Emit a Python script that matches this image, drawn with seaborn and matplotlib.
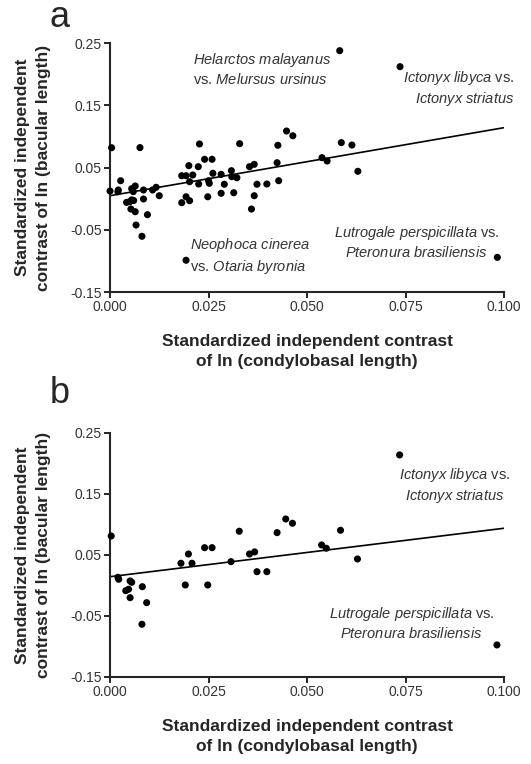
import matplotlib
matplotlib.use('Agg')
import matplotlib.pyplot as plt
import seaborn as sns

sns.set_style('ticks')
plt.rcParams['font.family'] = ['Liberation Sans', 'DejaVu Sans']
plt.rcParams['mathtext.fontset'] = 'custom'
plt.rcParams['mathtext.it'] = 'Liberation Sans:italic'
plt.rcParams['mathtext.rm'] = 'Liberation Sans'

# panel a: all contrasts
a_x = [0.0004, 0.0076, 0.0227, 0.0329, 0.0426, 0.0448, 0.0464, 0.0583, 0.0587,
       0.0614, 0.0736, 0.0538, 0.0551, 0.0629, 0.0983, 0.0193, 0.0000, 0.0021,
       0.0020, 0.0027, 0.0042, 0.0050, 0.0055, 0.0060, 0.0059, 0.0064, 0.0055,
       0.0053, 0.0064, 0.0066, 0.0081, 0.0085, 0.0085, 0.0095, 0.0108, 0.0117,
       0.0125, 0.0182, 0.0182, 0.0193, 0.0193, 0.0202, 0.0200, 0.0210, 0.0202,
       0.0224, 0.0225, 0.0240, 0.0259, 0.0250, 0.0252, 0.0261, 0.0248, 0.0282,
       0.0290, 0.0282, 0.0308, 0.0309, 0.0314, 0.0322, 0.0354, 0.0366, 0.0373,
       0.0366, 0.0359, 0.0398, 0.0424, 0.0428]
a_y = [0.0818, 0.0820, 0.0878, 0.0883, 0.0857, 0.1086, 0.1010, 0.2377, 0.0900,
       0.0861, 0.2120, 0.0658, 0.0604, 0.0439, -0.0943, -0.0990, 0.0122, 0.0139,
       0.0110, 0.0288, -0.0060, -0.0050, -0.0020, -0.0030, 0.0112, 0.0203, 0.0160,
       -0.0167, -0.0210, -0.0424, -0.0605, 0.0139, -0.0006, -0.0258, 0.0139, 0.0182,
       0.0047, -0.0065, 0.0368, 0.0368, 0.0030, -0.0033, 0.0530, 0.0380, 0.0272,
       0.0513, 0.0235, 0.0632, 0.0632, 0.0288, 0.0246, 0.0407, 0.0030, 0.0390,
       0.0231, 0.0086, 0.0449, 0.0353, 0.0095, 0.0336, 0.0513, 0.0551, 0.0231,
       0.0047, -0.0167, 0.0235, 0.0577, 0.0288]

# panel b: subset of contrasts
b_x = [0.0003, 0.0020, 0.0022, 0.0051, 0.0055, 0.0040, 0.0047, 0.0051, 0.0082,
       0.0093, 0.0081, 0.0180, 0.0191, 0.0199, 0.0208, 0.0240, 0.0259, 0.0248,
       0.0307, 0.0328, 0.0354, 0.0367, 0.0373, 0.0398, 0.0424, 0.0446, 0.0463,
       0.0537, 0.0549, 0.0585, 0.0628, 0.0982, 0.0735]
b_y = [0.0811, 0.0134, 0.0102, 0.0074, 0.0052, -0.0085, -0.0062, -0.0200, -0.0020,
       -0.0282, -0.0636, 0.0364, 0.0008, 0.0516, 0.0364, 0.0620, 0.0620, 0.0008,
       0.0390, 0.0889, 0.0516, 0.0550, 0.0226, 0.0226, 0.0866, 0.1090, 0.1020,
       0.0664, 0.0610, 0.0905, 0.0434, -0.0975, 0.2140]

# fitted lines
a_line_x = [0.0, 0.1]
a_line_y = [0.0047, 0.114]
b_line_x = [0.0, 0.1]
b_line_y = [0.0144, 0.0938]

x_ticks = [0.0, 0.025, 0.05, 0.075, 0.1]
x_ticklabels = ['0.000', '0.025', '0.050', '0.075', '0.100']
y_ticks = [-0.15, -0.05, 0.05, 0.15, 0.25]
y_ticklabels = ['-0.15', '-0.05', '0.05', '0.15', '0.25']

xlabel = 'Standardized independent contrast\nof ln (condylobasal length)'
ylabel = 'Standardized independent\ncontrast of ln (bacular length)'

a_notes = [
    (0.0211, 0.209, '$\\it{Helarctos\\ malayanus}$\nvs. $\\it{Melursus\\ ursinus}$', 'left'),
    (0.1025, 0.177, '$\\it{Ictonyx\\ libyca}$ vs.\n$\\it{Ictonyx\\ striatus}$', 'right'),
    (0.0204, -0.092, '$\\it{Neophoca\\ cinerea}$\nvs. $\\it{Otaria\\ byronia}$', 'left'),
    (0.0778, -0.069, '$\\it{Lutrogale\\ perspicillata}$ vs.\n$\\it{Pteronura\\ brasiliensis}$', 'center'),
]
b_notes = [
    (0.0875, 0.164, '$\\it{Ictonyx\\ libyca}$ vs.\n$\\it{Ictonyx\\ striatus}$', 'center'),
    (0.0765, -0.0615, '$\\it{Lutrogale\\ perspicillata}$ vs.\n$\\it{Pteronura\\ brasiliensis}$', 'center'),
]

fig = plt.figure(figsize=(5.31, 7.64), dpi=100)
ax_a = fig.add_axes([0.2072, 0.6178, 0.742, 0.3259])
ax_b = fig.add_axes([0.2072, 0.1139, 0.742, 0.3194])

for ax, xs, ys, lx, ly, notes in [(ax_a, a_x, a_y, a_line_x, a_line_y, a_notes),
                                   (ax_b, b_x, b_y, b_line_x, b_line_y, b_notes)]:
    sns.scatterplot(x=xs, y=ys, ax=ax, color='black', s=26, edgecolor='none',
                    clip_on=False, zorder=3)
    sns.lineplot(x=lx, y=ly, ax=ax, color='black', linewidth=1.2)
    ax.set_xlim(0, 0.1)
    ax.set_ylim(-0.15, 0.25)
    ax.set_xticks(x_ticks)
    ax.set_xticklabels(x_ticklabels)
    ax.set_yticks(y_ticks)
    ax.set_yticklabels(y_ticklabels)
    ax.tick_params(width=1.4, length=4, labelsize=10, labelcolor='#333333', pad=2)
    for sp in ['left', 'bottom']:
        ax.spines[sp].set_linewidth(1.5)
    sns.despine(ax=ax)
    ax.set_xlabel(xlabel, fontsize=12.5, fontweight='bold', labelpad=14,
                  linespacing=1.4)
    ax.set_ylabel(ylabel, fontsize=12.5, fontweight='bold', labelpad=14,
                  linespacing=1.5)
    for x, y, t, ha in notes:
        ax.text(x, y, t, ha=ha, va='center', multialignment=ha, fontsize=10.5,
                color='#333333', linespacing=1.25)

fig.text(0.094, 0.9647, 'a', fontsize=26, va='baseline')
fig.text(0.094, 0.4725, 'b', fontsize=26, va='baseline')

fig.savefig('out.png', dpi=100)
